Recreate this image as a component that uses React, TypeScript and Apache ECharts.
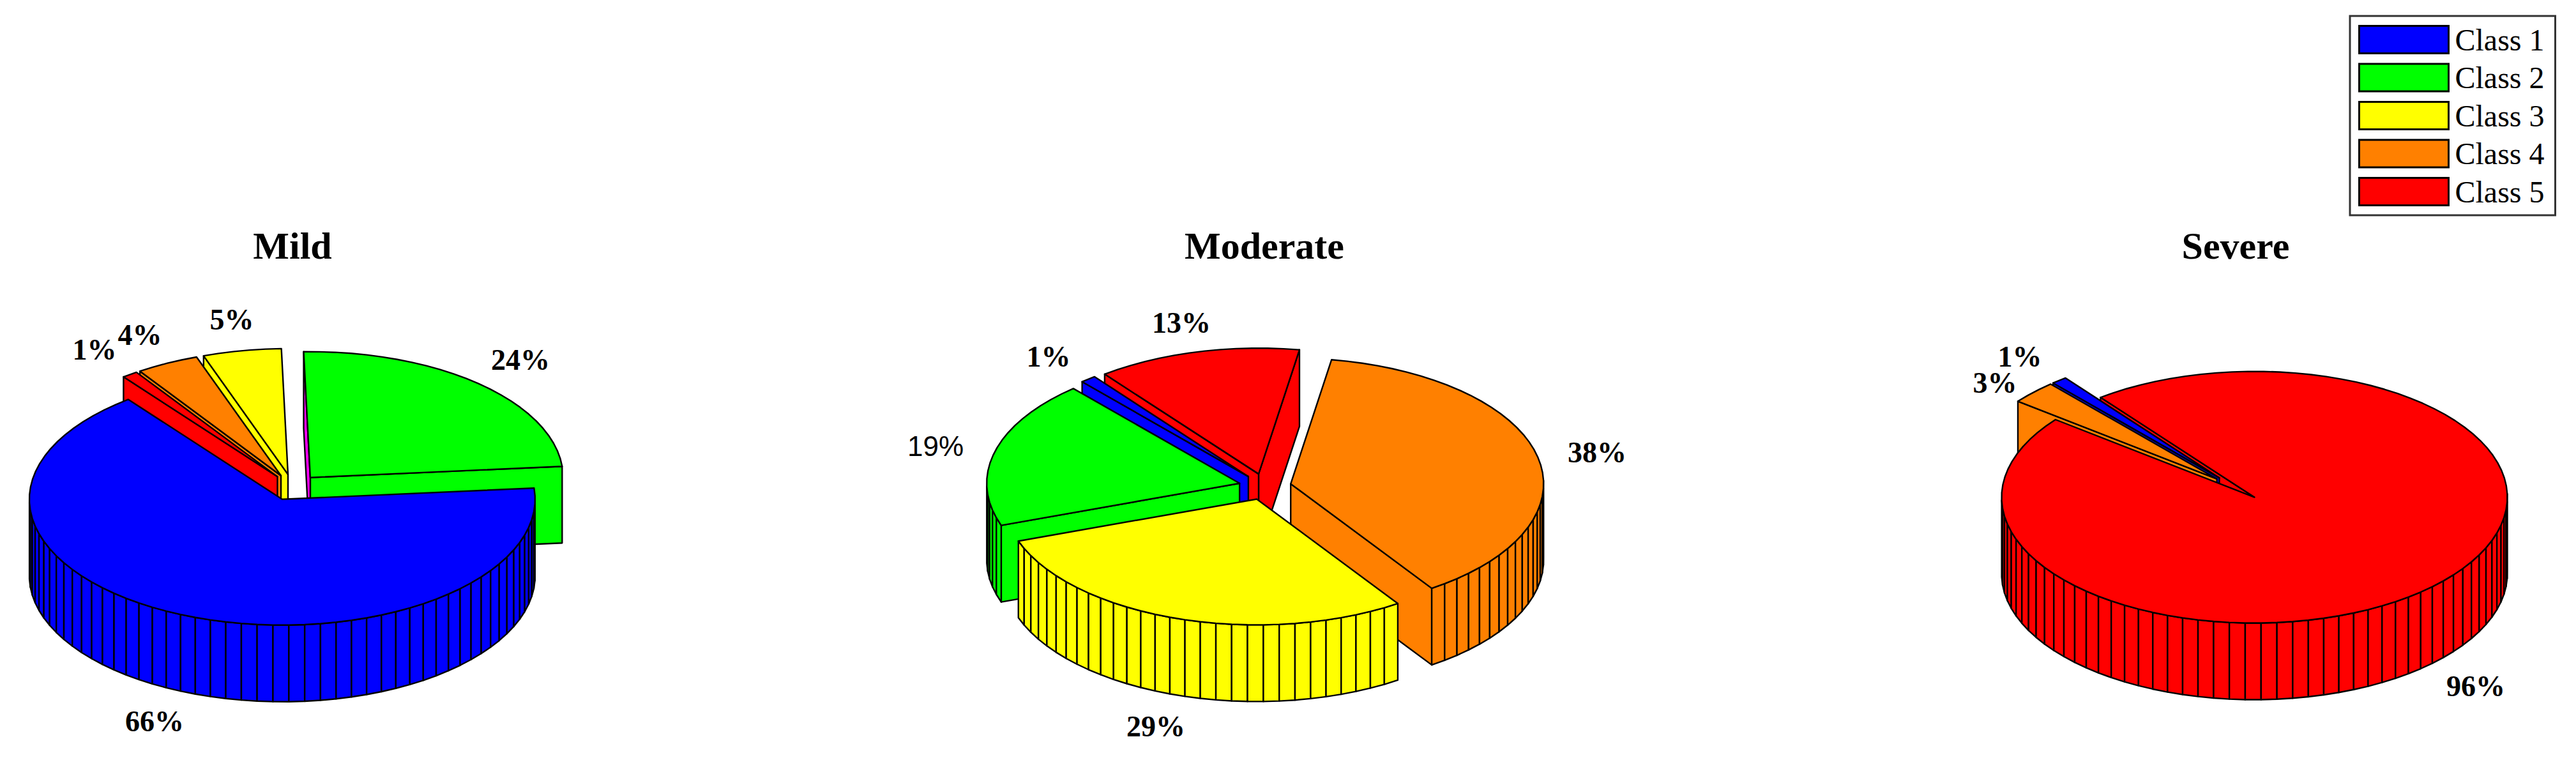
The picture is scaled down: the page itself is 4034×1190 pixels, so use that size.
import React, { useEffect, useRef } from "react";
import * as echarts from "echarts";

// ---- data ----
const classNames = ["Class 1", "Class 2", "Class 3", "Class 4", "Class 5"];
const classColors = ["#0000ff", "#00ff00", "#ffff00", "#ff8000", "#ff0000"];
const pieTitles = ["Mild", "Moderate", "Severe"];
const mildValues = [66, 24, 5, 4, 1];
const moderateValues = [1, 19, 29, 38, 13];
const severeValues = [1, 0, 0, 3, 96];
const pieValues = [mildValues, moderateValues, severeValues];

// ---- layout (pixels) ----
const W = 4034;
const H = 1190;
const RX = 396;
const RY = 197;
const DEPTH = 120;
const CENTERS = [[458.5, 763], [1981, 762], [3501.5, 764]];
const TITLE_CY = 388;
const TITLE_X = [458, 1980, 3501];
const LABEL_POS = [
  [[242, 1129], [815, 563], [363, 500], [219, 524], [148, 547]],
  [[1642, 558], [1465, 698], [1810, 1137], [2501, 708], [1850, 505]],
  [[3163, 558], null, null, [3124, 599], [3877, 1074]],
];
const START_ANGLE = 127.5;
const EXPLODE = 0.104;
const DEG = Math.PI / 180;
const X_RANGE = 1.15;
const Y_TOP = 1.4;
const Y_BOTTOM = -2.0;
const DEPTH_U = DEPTH / RY;

function wedgeList(values: number[]) {
  let a = START_ANGLE;
  return values.map((v, i) => {
    const b = a + v * 3.6;
    const w = { cls: i, value: v, a, b };
    a = b;
    return w;
  });
}

// part: "walls" draws the radial walls only, "body" the rest, "all" both
function makeRender(pie: number, w: any, part: string) {
  return (_params: any, api: any) => {
    const mid = ((w.a + w.b) / 2) * DEG;
    const ox = EXPLODE * Math.cos(mid);
    const oy = EXPLODE * Math.sin(mid);
    const P = (deg: number, r: number, z: number) =>
      api.coord([ox + r * Math.cos(deg * DEG), oy + r * Math.sin(deg * DEG) - z * DEPTH_U]);
    const fill = classColors[w.cls];
    const base = { stroke: "#000", lineWidth: 2.4, lineJoin: "round" };
    const children: any[] = [];
    const poly = (pts: number[][], f: string) =>
      children.push({ type: "polygon", shape: { points: pts }, style: { ...base, fill: f } });

    if (part !== "body") {
      if (Math.cos(w.a * DEG) > 0)
        poly([P(0, 0, 0), P(w.a, 1, 0), P(w.a, 1, 1), P(0, 0, 1)], fill);
      if (Math.cos(w.b * DEG) < 0) {
        const sliver = pie === 0 && w.cls === 1 ? "#ff00ff" : fill;
        poly([P(0, 0, 0), P(w.b, 1, 0), P(w.b, 1, 1), P(0, 0, 1)], sliver);
      }
    }

    if (part !== "walls") {
      const span = w.b - w.a;
      const n = Math.max(1, Math.round(span / 3.6));
      const step = span / n;
      const top: number[][] = [P(0, 0, 0)];
      for (let k = 0; k <= n; k++) top.push(P(w.a + k * step, 1, 0));
      for (let k = 0; k < n; k++) {
        const t0 = w.a + k * step;
        const t1 = t0 + step;
        if (Math.sin(((t0 + t1) / 2) * DEG) < 0)
          poly([P(t0, 1, 0), P(t1, 1, 0), P(t1, 1, 1), P(t0, 1, 1)], fill);
      }
      poly(top, fill);

      const lp = (LABEL_POS[pie] as any)[w.cls];
      if (lp) {
        const sans = pie === 1 && w.cls === 1;
        children.push({
          type: "text",
          z2: 100,
          x: lp[0],
          y: lp[1],
          style: {
            text: `${w.value}%`,
            fill: "#000",
            font: sans ? "44px 'Liberation Sans'" : "bold 46px 'Liberation Serif'",
            align: "center",
            verticalAlign: "middle",
          },
        });
      }
    }
    return { type: "group", children };
  };
}

function buildOption() {
  const grid: any[] = [];
  const xAxis: any[] = [];
  const yAxis: any[] = [];
  const series: any[] = [];
  CENTERS.forEach(([cx, cy], p) => {
    grid.push({
      left: cx - X_RANGE * RX,
      width: 2 * X_RANGE * RX,
      top: cy - Y_TOP * RY,
      height: (Y_TOP - Y_BOTTOM) * RY,
      show: false,
    });
    xAxis.push({ type: "value", gridIndex: p, min: -X_RANGE, max: X_RANGE, show: false });
    yAxis.push({ type: "value", gridIndex: p, min: Y_BOTTOM, max: Y_TOP, show: false });
    const wedges = wedgeList(pieValues[p]).filter((w) => w.value > 0);
    const order = [...wedges].sort(
      (m, n) => Math.sin(((n.a + n.b) / 2) * DEG) - Math.sin(((m.a + m.b) / 2) * DEG)
    );
    const addSeries = (w: any, part: string, z: number) =>
      series.push({
        type: "custom",
        name: classNames[w.cls],
        xAxisIndex: p,
        yAxisIndex: p,
        z,
        silent: true,
        clip: false,
        itemStyle: { color: classColors[w.cls] },
        renderItem: makeRender(p, w, part),
        data: [[w.value, 0]],
      });
    order.forEach((w, idx) => {
      if (w.b - w.a > 180) {
        // the walls of a reflex wedge sit in its own gap, behind the wedges in that gap
        addSeries(w, "walls", 1);
        addSeries(w, "body", 2 + idx);
      } else {
        addSeries(w, "all", 2 + idx);
      }
    });
  });
  return {
    animation: false,
    backgroundColor: "#fff",
    title: pieTitles.map((t, i) => ({
      text: t,
      left: TITLE_X[i],
      top: TITLE_CY - 33,
      textAlign: "center",
      padding: 0,
      textStyle: { fontFamily: "Liberation Serif", fontWeight: "bold", fontSize: 60, color: "#000" },
    })),
    legend: {
      data: classNames,
      orient: "vertical",
      left: 3680,
      top: 25,
      padding: [13, 17, 13, 13],
      itemWidth: 140,
      itemHeight: 43,
      itemGap: 11.5,
      selectedMode: false,
      borderColor: "#333",
      borderWidth: 3,
      backgroundColor: "#fff",
      icon: "rect",
      itemStyle: { borderColor: "#000", borderWidth: 3 },
      textStyle: { fontFamily: "Liberation Serif", fontSize: 48, color: "#000", padding: [0, 0, 0, 5] },
    },
    grid,
    xAxis,
    yAxis,
    series,
  };
}

export default function App() {
  const ref = useRef<HTMLDivElement>(null);
  useEffect(() => {
    document.body.style.margin = "0";
    const chart = echarts.init(ref.current!, undefined, { renderer: "svg" });
    chart.setOption(buildOption() as any);
    return () => chart.dispose();
  }, []);
  return <div ref={ref} style={{ width: W, height: H }} />;
}
